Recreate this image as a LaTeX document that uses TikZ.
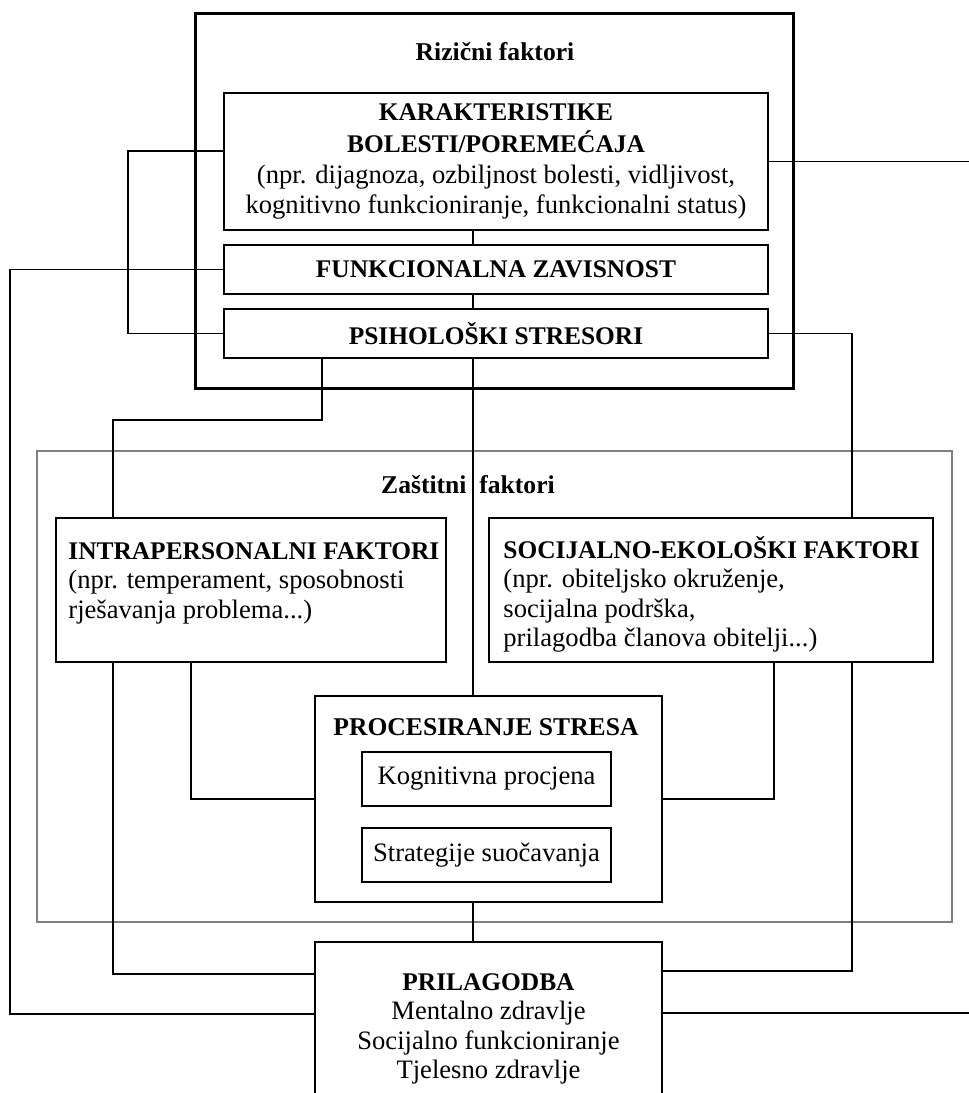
\documentclass[tikz,border=0pt]{standalone}
\usepackage{fontspec}
\setmainfont{Liberation Serif}
\newcommand{\hd}[1]{{\fontsize{12.7}{14.7}\selectfont\bfseries #1}}
\begin{document}
\begin{tikzpicture}[x=0.5pt,y=-0.5pt,
    box/.style={draw, line width=0.7pt, inner sep=0pt, outer sep=0pt, align=center, font=\fontsize{13.3}{14.7}\selectfont},
    head/.style={font=\fontsize{12.8}{14.7}\selectfont\bfseries, inner sep=0pt},
    txt/.style={font=\fontsize{13.3}{14.7}\selectfont, align=left, inner sep=0pt, anchor=north west},
    link/.style={line width=0.65pt}]
  \useasboundingbox (0,0) rectangle (969,1093);
  % groups
  \node (zas) [draw=black!50, line width=1.4pt, minimum width=457.5pt, minimum height=235.5pt, inner sep=0pt, outer sep=0pt] at (494.5,686.5) {};
  \node (rizik) [draw, line width=1.5pt, minimum width=299pt, minimum height=187.5pt, inner sep=0pt, outer sep=0pt] at (494,200.5) {};
  \node (rizikt) [head] at (495,52) {Rizični faktori};
  \node (zast) [head] at (468,485) {Zaštitni\ \ faktori};
  % risk boxes
  \node (kar) [box, minimum width=272pt, minimum height=68.5pt] at (496,161.5) {\hd{KARAKTERISTIKE}\\[1pt]\hd{BOLESTI/POREMEĆAJA}\\[1pt](npr. dijagnoza, ozbiljnost bolesti, vidljivost,\\kognitivno funkcioniranje, funkcionalni status)};
  \node (fun) [box, minimum width=272pt, minimum height=24.5pt] at (496,269.5) {\hd{FUNKCIONALNA ZAVISNOST}};
  \node (psi) [box, minimum width=272pt, minimum height=24.5pt] at (496,333.5) {\hd{PSIHOLOŠKI STRESORI}};
  % protective boxes
  \node (intra) [box, minimum width=195pt, minimum height=72pt] at (251,590) {};
  \node (intrat) [txt] at (68,542) {\hd{INTRAPERSONALNI FAKTORI}\\(npr. temperament, sposobnosti\\rješavanja problema...)};
  \node (soc) [box, minimum width=222pt, minimum height=72pt] at (711,590) {};
  \node (soct) [txt] at (503,536) {\hd{SOCIJALNO-EKOLOŠKI FAKTORI}\\(npr. obiteljsko okruženje,\\socijalna podrška,\\prilagodba članova obitelji...)};
  % stress processing
  \node (proc) [box, minimum width=173.5pt, minimum height=103pt] at (488.5,799) {};
  \node (proct) [head] at (486,727) {PROCESIRANJE STRESA};
  \node (kog) [box, minimum width=124.5pt, minimum height=27pt] at (486.5,779) {Kognitivna procjena};
  \node (str) [box, minimum width=124.5pt, minimum height=27pt] at (486.5,855) {Strategije suočavanja};
  % outcome
  \node (pri) [box, minimum width=173.5pt, minimum height=87pt] at (488.5,1029) {\hd{PRILAGODBA}\\Mentalno zdravlje\\Socijalno funkcioniranje\\Tjelesno zdravlje};
  \coordinate (out1) at (969,161.5);
  \coordinate (out2) at (969,1013);
  % connectors
  \draw [link] (kar.south -| 473,0) -- (fun.north -| 473,0);
  \draw [link] (fun.south -| 473,0) -- (psi.north -| 473,0);
  \draw [link] (kar.west |- 0,151) -- ++(-96,0) |- (psi.west);
  \draw [link] (fun.west) -- ++(-214,0) |- (pri.west |- 0,1014);
  \draw [link] (kar.east) -- (out1);
  \draw [link] (pri.east |- out2) -- (out2);
  \draw [link] (psi.east) -| (soc.north -| 852,0);
  \draw [link] (soc.south -| 852,0) |- (pri.east |- 0,971);
  \draw [link] (psi.south -| 322,0) -- ++(0,62) -| (intra.north -| 113,0);
  \draw [link] (intra.south -| 113,0) |- (pri.west |- 0,974);
  \draw [link] (intra.south -| 191,0) |- (proc.west);
  \draw [link] (soc.south -| 774,0) |- (proc.east);
  \draw [link] (psi.south -| 473,0) -- (proc.north -| 473,0);
  \draw [link] (proc.south -| 473,0) -- (pri.north -| 473,0);
\end{tikzpicture}
\end{document}
